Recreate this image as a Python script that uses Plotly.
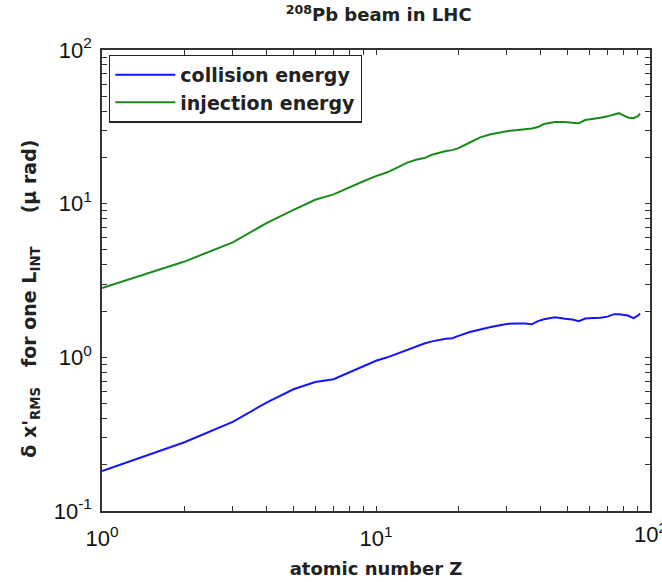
import math
import plotly.graph_objects as go

z_vals = [1, 2, 3, 4, 5, 6, 7, 8, 9, 10, 11, 12, 13, 14, 15, 16, 17, 18, 19, 20,
          22, 24, 26, 28, 30, 33, 35, 37, 39, 41, 45, 49, 52, 55, 58, 62, 66, 70,
          74, 77, 80, 83, 87, 90, 92]
collision = [0.182, 0.28, 0.38, 0.51, 0.62, 0.69, 0.72, 0.80, 0.88, 0.95, 1.0, 1.06,
             1.13, 1.18, 1.23, 1.27, 1.30, 1.32, 1.33, 1.38, 1.46, 1.52, 1.57, 1.61,
             1.65, 1.66, 1.66, 1.64, 1.72, 1.77, 1.82, 1.78, 1.76, 1.72, 1.79, 1.80,
             1.81, 1.84, 1.91, 1.91, 1.88, 1.87, 1.80, 1.86, 1.93]
injection = [2.82, 4.2, 5.6, 7.5, 9.1, 10.6, 11.5, 12.8, 14.0, 15.1, 16.0, 17.2,
             18.5, 19.3, 19.8, 20.8, 21.5, 22.0, 22.3, 23.0, 25.0, 27.0, 28.2, 29.0,
             29.6, 30.2, 30.5, 30.8, 31.5, 33.0, 34.0, 34.0, 33.6, 33.4, 35.0, 35.5,
             36.2, 37.0, 38.2, 38.8, 37.5, 36.4, 36.0, 37.0, 38.5]

x_major = [1, 10, 100]
x_major_text = ["10<sup>0</sup>", "10<sup>1</sup>", "10<sup>2</sup>"]
y_major = [0.1, 1, 10, 100]
y_major_text = ["10<sup>-1</sup>", "10<sup>0</sup>", "10<sup>1</sup>", "10<sup>2</sup>"]
x_minor = [m * d for d in [1, 10] for m in range(2, 10)]
y_minor = [m * d for d in [0.1, 1, 10] for m in range(2, 10)]

tick_family = "Liberation Sans, Arial, sans-serif"
text_family = "DejaVu Sans, sans-serif"
tick_font = dict(family=tick_family, size=22, color="#111")

fig = go.Figure()
fig.add_trace(go.Scatter(x=z_vals, y=collision, mode="lines", name="<b>collision energy</b>",
                         line=dict(color="#1414ff", width=2)))
fig.add_trace(go.Scatter(x=z_vals, y=injection, mode="lines", name="<b>injection energy</b>",
                         line=dict(color="#1a8a1a", width=2)))

axis_common = dict(type="log", showgrid=False, zeroline=False, showline=True,
                   linecolor="#333", linewidth=1.5, mirror="ticks", ticks="inside",
                   ticklen=5, tickcolor="#333", automargin=False, tickfont=tick_font)

# last x label sits at the page edge (clipped in the original); drawn as annotation
x_tick_text_axis = x_major_text[:-1] + [""]
fig.update_xaxes(**axis_common, range=[0, 2], tickvals=x_major, ticktext=x_tick_text_axis,
                 ticklabelstandoff=7,
                 minor=dict(tickvals=x_minor, ticks="inside", ticklen=5, tickcolor="#333"),
                 title=dict(text="<b>atomic number Z</b>",
                            font=dict(family=text_family, size=18, color="#222"),
                            standoff=12))
fig.update_yaxes(**axis_common, range=[-1, 2], tickvals=y_major, ticktext=y_major_text,
                 ticklabelstandoff=4,
                 minor=dict(tickvals=y_minor, ticks="inside", ticklen=5, tickcolor="#333"))

fig.add_annotation(text=x_major_text[-1], xref="x", x=math.log10(x_major[-1]),
                   yref="paper", y=0, yanchor="top", xanchor="center", yshift=-6,
                   showarrow=False, font=tick_font)

fig.add_annotation(
    text="<b>δ x'<sub>RMS</sub>&nbsp;&nbsp; for one L<sub>INT</sub>&nbsp;&nbsp;&nbsp;&nbsp; (μ rad)</b>",
    textangle=-90, xref="paper", yref="paper", x=-0.13, y=0.46,
    xanchor="center", yanchor="middle", showarrow=False,
    font=dict(family=text_family, size=19, color="#222"))

fig.update_layout(
    width=662, height=582,
    margin=dict(l=102, r=12, t=50, b=71),
    paper_bgcolor="white", plot_bgcolor="white",
    title=dict(text="<b><sup>208</sup>Pb beam in LHC</b>", x=0.572, xanchor="center",
               y=0.985, yanchor="top",
               font=dict(family=text_family, size=18, color="#222")),
    legend=dict(x=0.013, y=0.99, xanchor="left", yanchor="top",
                bordercolor="#222", borderwidth=1.2, bgcolor="white",
                font=dict(family=text_family, size=19, color="#222"),
                itemwidth=60, tracegroupgap=0),
    showlegend=True,
)

fig.write_html("out.html")
